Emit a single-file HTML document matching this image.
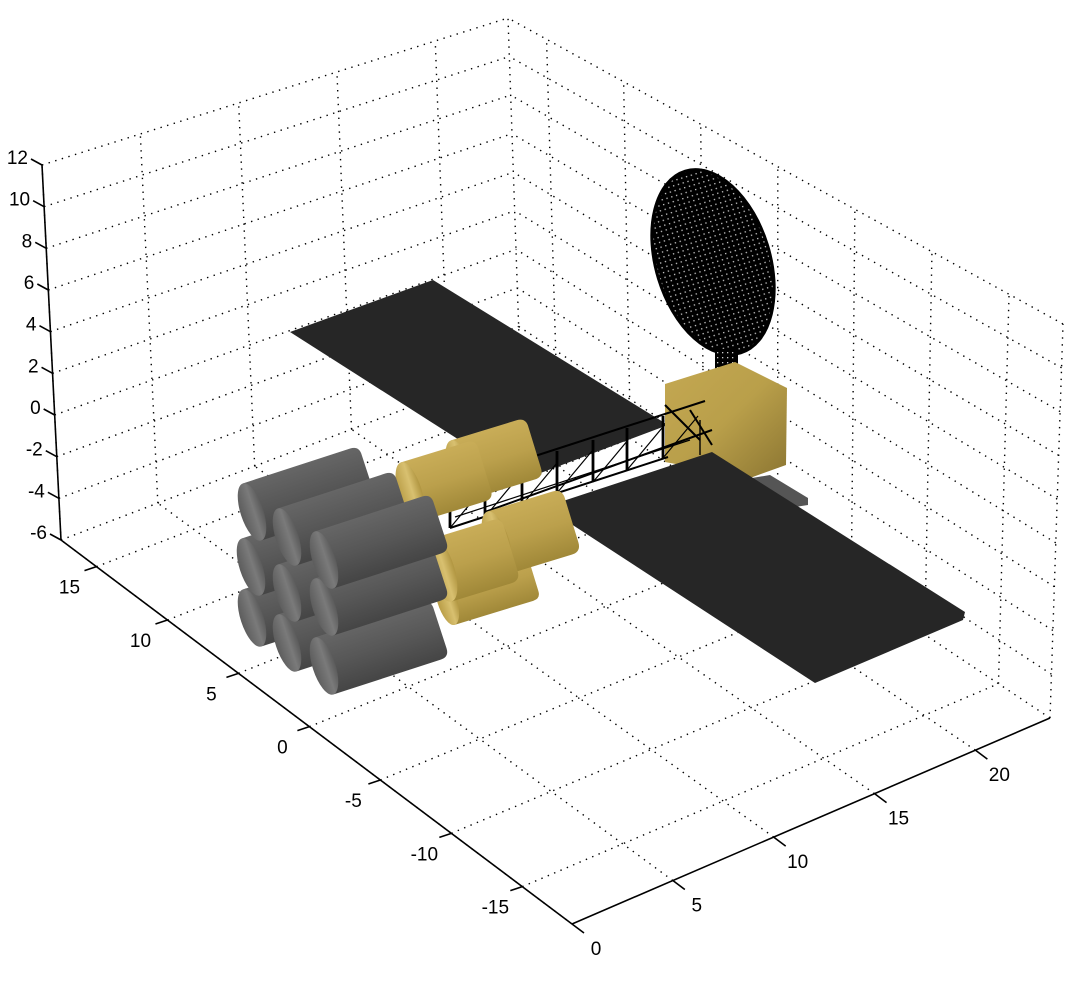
<!DOCTYPE html>
<html><head><meta charset="utf-8"><style>
html,body{margin:0;padding:0;background:#fff}
svg{display:block}
text{font-family:"Liberation Sans",sans-serif;font-size:19px;fill:#000}
</style></head><body>
<svg id="chart" width="1066" height="985" viewBox="0 0 1066 985" xmlns="http://www.w3.org/2000/svg">
<defs>
<linearGradient id="gGrey" x1="0" y1="0" x2="0" y2="1"><stop offset="0" stop-color="#666"/><stop offset="0.5" stop-color="#575757"/><stop offset="1" stop-color="#454545"/></linearGradient>
<linearGradient id="gGreyCap" x1="0" y1="0" x2="1" y2="0"><stop offset="0" stop-color="#5c5c5c"/><stop offset="0.6" stop-color="#7a7a7a"/><stop offset="1" stop-color="#5a5a5a"/></linearGradient>
<linearGradient id="gGold" x1="0" y1="0" x2="0" y2="1"><stop offset="0" stop-color="#c9ad58"/><stop offset="0.5" stop-color="#bba04c"/><stop offset="1" stop-color="#a08838"/></linearGradient>
<linearGradient id="gGoldCap" x1="0" y1="0" x2="1" y2="0"><stop offset="0" stop-color="#b89c45"/><stop offset="0.6" stop-color="#d8c070"/><stop offset="1" stop-color="#b09540"/></linearGradient>
<linearGradient id="gBox" x1="0" y1="0" x2="1" y2="1"><stop offset="0" stop-color="#c4a852"/><stop offset="0.5" stop-color="#b99f4a"/><stop offset="1" stop-color="#8c7632"/></linearGradient>
<pattern id="mesh" width="5" height="5" patternUnits="userSpaceOnUse"><rect width="5" height="5" fill="#000"/><rect x="2" y="2" width="1.3" height="1.3" fill="#ccc"/></pattern>
</defs>
<g id="grid"></g>
<g id="axes"></g>
<g id="craft">
  <polygon points="290,332 433,280 668,425 522,480" fill="#262626"/>
  <g>
    <ellipse cx="713" cy="262" rx="57" ry="95" transform="rotate(-17 713 262)" fill="url(#mesh)" stroke="#000" stroke-width="3"/>
    <rect x="716" y="350" width="21" height="42" fill="url(#mesh)" stroke="#000" stroke-width="2"/>
  </g>
  <polygon points="665,384 735,362 787,388 786,465 750,478 665,462" fill="url(#gBox)"/>
  <polygon points="752,478 770,475 808,498 808,505 795,507 752,485" fill="#555"/>
  <g id="truss" stroke="#000" fill="none"></g>
  <polygon points="557,503 712,452 965,612 963,620 815,683 565,520" fill="#262626"/>
  <g id="tanks"></g>
</g>
</svg>
<script>
// axis data
const xTicks=[0,5,10,15,20];
const yTicks=[-15,-10,-5,0,5,10,15];
const zTicks=[-6,-4,-2,0,2,4,6,8,10,12];
const xLim=[0,23.7], yLim=[-18.5,17.5], zLim=[-6,12];
// projected box corners (screen), index [x][y][z] with 0=min,1=max
const C={"000":[572,924],"100":[1050,718],"010":[61,540],"110":[520,365],
         "001":[580,560],"101":[1063,324],"011":[42,165],"111":[508,18]};
function P(x,y,z){
  const u=(x-xLim[0])/(xLim[1]-xLim[0]), v=(y-yLim[0])/(yLim[1]-yLim[0]), w=(z-zLim[0])/(zLim[1]-zLim[0]);
  let X=0,Y=0;
  for(const a of [0,1])for(const b of [0,1])for(const c of [0,1]){
    const k=(a?u:1-u)*(b?v:1-v)*(c?w:1-w); const p=C[""+a+b+c]; X+=k*p[0]; Y+=k*p[1];}
  return [X,Y];
}
const NS="http://www.w3.org/2000/svg";
const grid=document.getElementById('grid'), axes=document.getElementById('axes');
function line(g,a,b,dotted,name){
  const l=document.createElementNS(NS,'line');
  l.setAttribute('x1',a[0]);l.setAttribute('y1',a[1]);l.setAttribute('x2',b[0]);l.setAttribute('y2',b[1]);
  l.setAttribute('stroke','#000');l.setAttribute('stroke-width',dotted?1.4:1.6);
  if(dotted){l.setAttribute('stroke-dasharray','1.4 5.5');}
  
  
  g.appendChild(l);
}
function label(x,y,t,anchor,name){
  const e=document.createElementNS(NS,'text');
  e.setAttribute('x',x);e.setAttribute('y',y);e.setAttribute('text-anchor',anchor);e.textContent=t;
  
  
  axes.appendChild(e);
}
const [x0,x1]=xLim,[y0,y1]=yLim,[z0,z1]=zLim;
xTicks.forEach(x=>line(grid,P(x,y0,z0),P(x,y1,z0),true,'floor-grid-x'));
yTicks.forEach(y=>line(grid,P(x0,y,z0),P(x1,y,z0),true,'floor-grid-y'));
xTicks.forEach(x=>line(grid,P(x,y1,z0),P(x,y1,z1),true,'left-wall-grid-x'));
zTicks.forEach(z=>line(grid,P(x0,y1,z),P(x1,y1,z),true,'left-wall-grid-z'));
yTicks.forEach(y=>line(grid,P(x1,y,z0),P(x1,y,z1),true,'right-wall-grid-y'));
zTicks.forEach(z=>line(grid,P(x1,y0,z),P(x1,y1,z),true,'right-wall-grid-z'));
line(grid,P(x1,y1,z0),P(x1,y1,z1),true,'far-edge');
line(grid,P(x1,y0,z0),P(x1,y0,z1),true,'right-edge');
line(axes,P(x0,y1,z0),P(x0,y1,z1),false,'z-axis');
line(axes,P(x0,y0,z0),P(x0,y1,z0),false,'y-axis');
line(axes,P(x0,y0,z0),P(x1,y0,z0),false,'x-axis');
zTicks.forEach(z=>{const p=P(x0,y1,z);line(axes,p,[p[0]-11,p[1]-6],false,'z-tick');label(p[0]-14,p[1]-1,String(z),'end','z-tick-label');});
yTicks.forEach(y=>{const p=P(x0,y,z0);line(axes,p,[p[0]-12,p[1]+4],false,'y-tick');label(p[0]-27,p[1]+27,String(y),'middle','y-tick-label');});
xTicks.forEach(x=>{const p=P(x,y0,z0);line(axes,p,[p[0]+12,p[1]+9],false,'x-tick');label(p[0]+24,p[1]+31,String(x),'middle','x-tick-label');});

// truss
const truss=document.getElementById('truss');
function tl(a,b,c,d,w){const l=document.createElementNS(NS,'line');l.setAttribute('x1',a);l.setAttribute('y1',b);l.setAttribute('x2',c);l.setAttribute('y2',d);l.setAttribute('stroke-width',w||2);


truss.appendChild(l);}
tl(532,457,705,401);tl(450,528,668,457);tl(485,512,712,430);tl(455,517,690,440,1.2);
[[450,528],[485,517],[522,505],[557,493],[593,482],[627,470],[663,458]].forEach((p,i)=>{
  tl(p[0],p[1],p[0],p[1]-42+(i<2?10:0),2.8);tl(p[0],p[1],p[0]+35,p[1]-42,1.2);
});
tl(665,405,700,440);tl(690,410,712,445);tl(700,420,700,455,1.4);

// tanks
const tanks=document.getElementById('tanks');
function cyl(cx,cy,L,r,ang,kind){
  const g=document.createElementNS(NS,'g');
  g.setAttribute('transform',`translate(${cx},${cy}) rotate(${ang})`);
  
  
  const body=document.createElementNS(NS,'path');
  const e=r*0.3;
  body.setAttribute('d',`M0,${-r} L${L-e},${-r} Q${L},${-r} ${L},${-r+e} L${L},${r-e} Q${L},${r} ${L-e},${r} L0,${r} Z`);
  body.setAttribute('fill',kind==='grey'?'url(#gGrey)':'url(#gGold)');
  g.appendChild(body);
  const cap=document.createElementNS(NS,'ellipse');
  cap.setAttribute('cx',0);cap.setAttribute('cy',0);cap.setAttribute('rx',r*0.38);cap.setAttribute('ry',r);
  cap.setAttribute('fill',kind==='grey'?'url(#gGreyCap)':'url(#gGoldCap)');
  g.appendChild(cap);
  tanks.appendChild(g);
}
cyl(447,600,90,26,-17,'gold');
cyl(460,470,78,31,-17,'gold');
cyl(410,492,78,31,-17,'gold');
cyl(497,543,78,33,-17,'gold');
cyl(442,570,72,33,-17,'gold');
[[252,618],[287,643],[324,666],[251,567],[287,593],[324,607],[252,512],[287,537],[324,560]].forEach(p=>cyl(p[0],p[1],122,30,-18,'grey'));
</script>
</body></html>
